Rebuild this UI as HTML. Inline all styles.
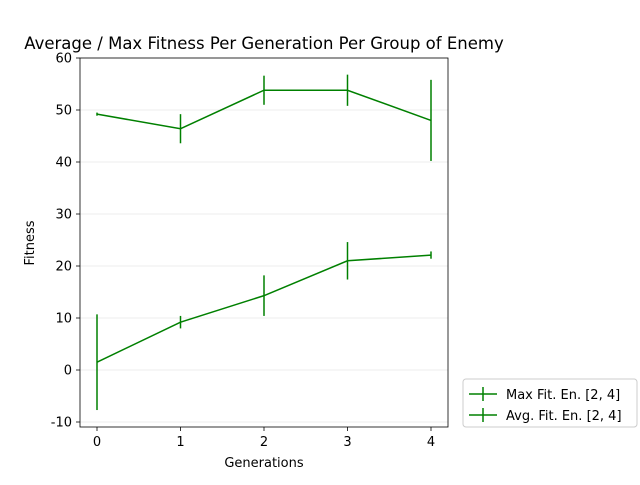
<!DOCTYPE html>
<html><head><meta charset="utf-8"><style>body{margin:0;background:#fff}svg{font-family:"DejaVu Sans","Liberation Sans",sans-serif}</style></head>
<body>
<svg id="c" width="640" height="480"></svg>
<script>
const gens=[0,1,2,3,4];
const maxVals=[49.2,46.4,53.8,53.8,48.0];
const maxErr=[0.3,2.8,2.8,3.0,7.8];
const avgVals=[1.5,9.2,14.3,21.0,22.1];
const avgErr=[9.2,1.2,3.9,3.6,0.7];
const yTicks=[-10,0,10,20,30,40,50,60];
const xTicks=[0,1,2,3,4];
const NS="http://www.w3.org/2000/svg";
const svg=document.getElementById('c');
const L=80,R=448,T=58,B=427;
const xs=v=>97+(v-0)*83.5;
const ys=v=>370-v*5.2;
function el(t,a,p){const e=document.createElementNS(NS,t);for(const k in a)e.setAttribute(k,a[k]);(p||svg).appendChild(e);return e;}
yTicks.forEach(t=>{
 const g=el('line',{x1:L,x2:R,y1:ys(t),y2:ys(t),stroke:'#e6e6e6','stroke-width':0.8});
 
 
 el('line',{x1:L-4,x2:L,y1:ys(t),y2:ys(t),stroke:'#000','stroke-width':0.8});
 const tx=el('text',{x:L-8,y:ys(t)+4.5,'text-anchor':'end','font-size':13});tx.textContent=t;
 
 
});
xTicks.forEach(t=>{
 el('line',{x1:xs(t),x2:xs(t),y1:B,y2:B+4,stroke:'#000','stroke-width':0.8});
 const tx=el('text',{x:xs(t),y:B+19,'text-anchor':'middle','font-size':13});tx.textContent=t;
 
 
});
function series(vals,errs,name){
 const pl=el('polyline',{points:vals.map((v,i)=>xs(gens[i])+','+ys(v)).join(' '),fill:'none',stroke:'#008000','stroke-width':1.5});
 
 
 vals.forEach((v,i)=>{
  const e=el('line',{x1:xs(gens[i]),x2:xs(gens[i]),y1:ys(v-errs[i]),y2:ys(v+errs[i]),stroke:'#008000','stroke-width':1.5});
  
  
 });
}
series(maxVals,maxErr,'max-fitness');
series(avgVals,avgErr,'avg-fitness');
const fr=el('rect',{x:L,y:T,width:R-L,height:B-T,fill:'none',stroke:'#000','stroke-width':0.8});


const ti=el('text',{x:264,y:49,'text-anchor':'middle','font-size':16.5});ti.textContent='Average / Max Fitness Per Generation Per Group of Enemy';


const xl=el('text',{x:264,y:467,'text-anchor':'middle','font-size':13});xl.textContent='Generations';


const yl=el('text',{x:0,y:0,'text-anchor':'middle','font-size':13,transform:'translate(34,243) rotate(-90)'});yl.textContent='Fitness';


const lg=el('rect',{x:463,y:379,width:174,height:48,rx:3,fill:'#fff',stroke:'#ccc','stroke-width':1});


['Max Fit. En. [2, 4]','Avg. Fit. En. [2, 4]'].forEach((s,i)=>{
 const y=394+i*21;
 el('line',{x1:469,x2:497,y1:y,y2:y,stroke:'#008000','stroke-width':1.5});
 el('line',{x1:483,x2:483,y1:y-7,y2:y+7,stroke:'#008000','stroke-width':1.5});
 const t=el('text',{x:506,y:y+5,'font-size':13});t.textContent=s;
 
 
});
</script>
</body></html>
